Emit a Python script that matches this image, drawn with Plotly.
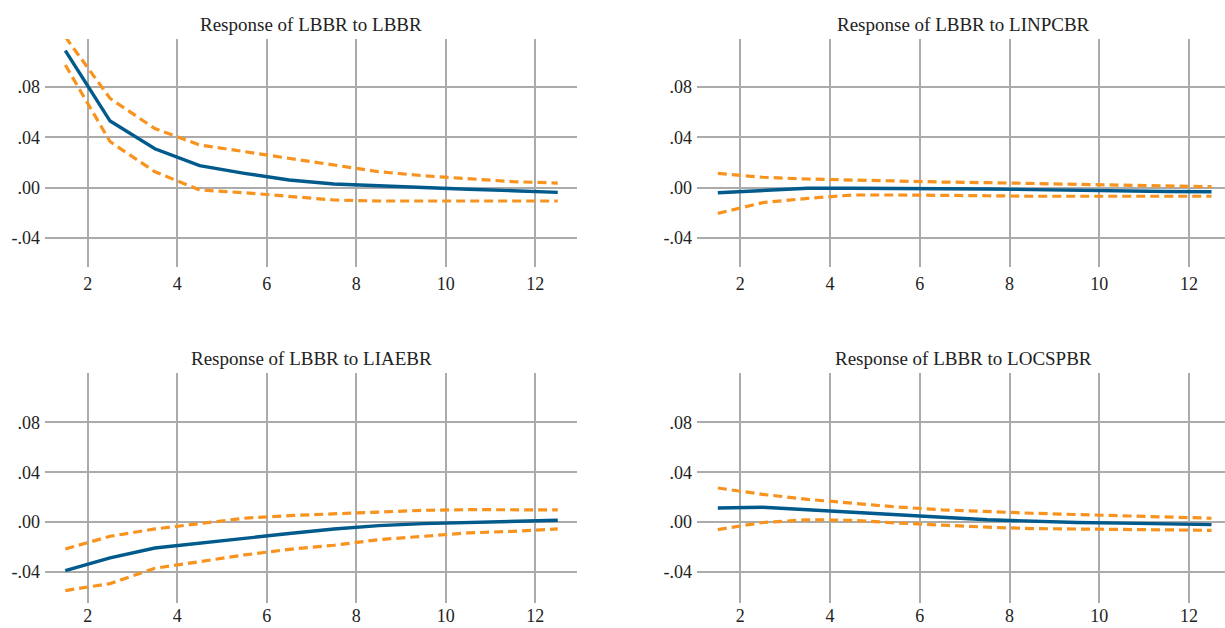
import plotly.graph_objects as go

# ---- data ----
periods = list(range(1, 13))
x_tick_positions = [1.5, 3.5, 5.5, 7.5, 9.5, 11.5]
x_tick_labels = ["2", "4", "6", "8", "10", "12"]
y_tick_values = [-0.04, 0.0, 0.04, 0.08]
y_tick_labels = ["-.04", ".00", ".04", ".08"]

titles = [
    "Response of LBBR to LBBR",
    "Response of LBBR to LINPCBR",
    "Response of LBBR to LIAEBR",
    "Response of LBBR to LOCSPBR",
]

resp_lbbr = [0.109, 0.053, 0.031, 0.0175, 0.0114, 0.0061, 0.0029, 0.0014, 0.0000, -0.0013, -0.0024, -0.0037]
upper_lbbr = [0.120, 0.071, 0.047, 0.034, 0.0287, 0.0234, 0.0175, 0.0127, 0.0095, 0.0069, 0.0048, 0.0037]
lower_lbbr = [0.0976, 0.0366, 0.0127, -0.0018, -0.0040, -0.0072, -0.0098, -0.0106, -0.0106, -0.0106, -0.0106, -0.0106]

resp_linpcbr = [-0.0040, -0.0020, -0.0005, -0.0005, -0.0005, -0.0010, -0.0010, -0.0015, -0.0020, -0.0030, -0.0030, -0.0032]
upper_linpcbr = [0.0114, 0.0083, 0.0069, 0.0059, 0.0053, 0.0045, 0.0040, 0.0035, 0.0027, 0.0021, 0.0014, 0.0008]
lower_linpcbr = [-0.0204, -0.0119, -0.0085, -0.0058, -0.0058, -0.0058, -0.0064, -0.0068, -0.0068, -0.0068, -0.0068, -0.0068]

resp_liaebr = [-0.0390, -0.0289, -0.0209, -0.0169, -0.0128, -0.0093, -0.0056, -0.0029, -0.0013, -0.0002, 0.0006, 0.0014]
upper_liaebr = [-0.0217, -0.0115, -0.0056, -0.0013, 0.0030, 0.0051, 0.0067, 0.0084, 0.0094, 0.0099, 0.0099, 0.0097]
lower_liaebr = [-0.0551, -0.0495, -0.0372, -0.0316, -0.0265, -0.0220, -0.0187, -0.0142, -0.0115, -0.0088, -0.0075, -0.0056]

resp_locspbr = [0.0112, 0.0118, 0.0098, 0.0076, 0.0055, 0.0038, 0.0018, 0.0006, -0.0004, -0.0009, -0.0017, -0.0021]
upper_locspbr = [0.0273, 0.0222, 0.0182, 0.0150, 0.0120, 0.0098, 0.0082, 0.0070, 0.0060, 0.0050, 0.0042, 0.0030]
lower_locspbr = [-0.0061, -0.0004, 0.0018, 0.0013, -0.0008, -0.0028, -0.0042, -0.0053, -0.0057, -0.0062, -0.0066, -0.0067]

panels = [
    (resp_lbbr, upper_lbbr, lower_lbbr),
    (resp_linpcbr, upper_linpcbr, lower_linpcbr),
    (resp_liaebr, upper_liaebr, lower_liaebr),
    (resp_locspbr, upper_locspbr, lower_locspbr),
]

# ---- style ----
W, H = 1225, 628
BLUE = "#005a8c"
ORANGE = "#f7931e"
GRID = "#ababab"
FONT = "Liberation Serif"
TEXT = "#222222"

# plot areas in pixels: (left, right, top, bottom)
areas = [
    (45, 577, 39, 267),
    (697, 1225, 39, 267),
    (45, 577, 373, 603),
    (697, 1225, 373, 603),
]
x_ranges = [[0.546, 12.43], [0.536, 12.30], [0.546, 12.43], [0.536, 12.30]]
y_ranges = [[-0.0631, 0.1183], [-0.0631, 0.1183], [-0.0651, 0.1197], [-0.0651, 0.1197]]
x_standoffs = [4, 4, 0, 0]

fig = go.Figure()
layout = dict(
    width=W, height=H,
    margin=dict(l=0, r=0, t=0, b=0, autoexpand=False),
    paper_bgcolor="white", plot_bgcolor="white",
    showlegend=False,
    font=dict(family=FONT, size=18, color=TEXT),
)

annotations = []
for i, ((resp, up, lo), (l, r, t, b)) in enumerate(zip(panels, areas)):
    n = "" if i == 0 else str(i + 1)
    xa, ya = "x" + n, "y" + n
    for series, color, dash, width in ((up, ORANGE, "9px,5px", 3.2), (lo, ORANGE, "9px,5px", 3.2), (resp, BLUE, "solid", 3.4)):
        fig.add_trace(go.Scatter(
            x=periods, y=series, mode="lines",
            line=dict(color=color, width=width, dash=dash),
            xaxis=xa, yaxis=ya, hoverinfo="skip",
        ))
    layout["xaxis" + n] = dict(
        domain=[l / W, r / W], anchor=ya, range=x_ranges[i], automargin=False,
        tickmode="array", tickvals=x_tick_positions, ticktext=x_tick_labels,
        showgrid=True, gridcolor=GRID, gridwidth=1.6,
        zeroline=False, showline=False, ticks="", ticklabelstandoff=x_standoffs[i],
        tickfont=dict(family=FONT, size=18, color=TEXT),
    )
    layout["yaxis" + n] = dict(
        domain=[1 - b / H, 1 - t / H], anchor=xa, range=y_ranges[i], automargin=False,
        tickmode="array", tickvals=y_tick_values, ticktext=y_tick_labels,
        showgrid=True, gridcolor=GRID, gridwidth=1.6,
        zeroline=False, showline=False, ticks="", ticklabelstandoff=4,
        tickfont=dict(family=FONT, size=18, color=TEXT),
    )
    annotations.append(dict(
        text=titles[i], x=(l + r) / 2 / W if i % 2 == 0 else (l + l + 532) / 2 / W,
        y=1 - t / H, xref="paper", yref="paper",
        xanchor="center", yanchor="bottom", showarrow=False,
        font=dict(family=FONT, size=19, color=TEXT), yshift=2,
    ))

layout["annotations"] = annotations
fig.update_layout(**layout)
fig.write_html("out.html")
